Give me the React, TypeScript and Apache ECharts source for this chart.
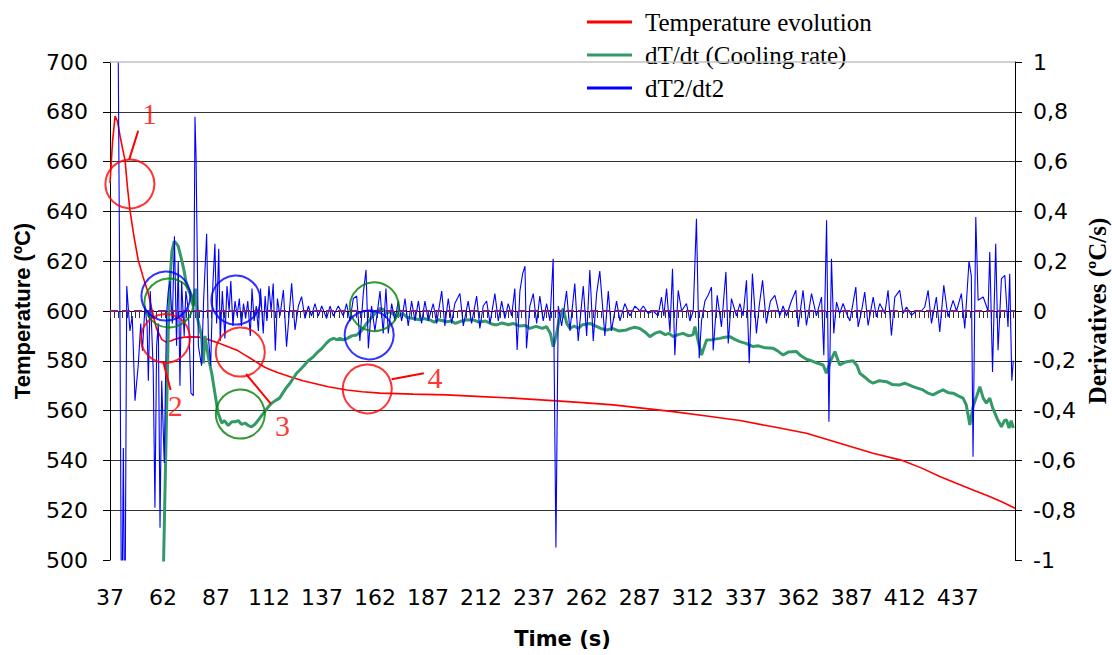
import { useEffect, useRef } from 'react';
import * as echarts from 'echarts';

const SANS = '"DejaVu Sans", "Liberation Sans", Arial, sans-serif';
const SANS_TITLE = '"Liberation Sans", Arial, sans-serif';
const SERIF = '"Liberation Serif", "Times New Roman", serif';

const xLabelValues = [37, 62, 87, 112, 137, 162, 187, 212, 237, 262, 287, 312, 337, 362, 387, 412, 437];
const seriesNames = ['Temperature evolution', 'dT/dt (Cooling rate)', 'dT2/dt2'];

// Temperature (ºC) vs time (s)
const temperature = [
  [37, 651.3], [38.2, 668], [39.4, 678.3], [40.6, 676], [41.8, 670], [43, 665], [44.1, 660.6], [45.2, 650],
  [46.4, 640.6], [48.3, 630], [50.3, 620.5], [52.5, 614], [55.1, 607], [56.9, 600], [58.9, 593], [61.5, 588.5],
  [63.7, 587.4], [65.5, 588], [68, 588.8], [72, 589.5], [76, 589.6], [79, 589.5], [82, 589], [85, 588.1],
  [88, 587.2], [91.2, 586.1], [94.5, 585], [97.5, 584], [100.5, 582.4], [103.8, 580.7], [107, 579], [110, 577.4],
  [113, 576.3], [116.4, 575.2], [122.7, 573.4], [128, 572], [133, 571], [140, 569.6], [148.7, 568.3], [156, 567.6],
  [164.4, 567], [180, 566.6], [195.8, 566.3], [210, 565.7], [227.2, 565], [247.7, 563.9], [260, 563.2], [274.4, 562.3],
  [287, 561.1], [302.7, 559.6], [318.5, 557.8], [334.2, 556], [349.9, 553.5], [365.6, 550.9], [381.3, 546.9],
  [397, 542.9], [411.2, 539.9], [420, 536.9], [428.5, 533.5], [436, 530.9], [444.2, 528.1], [452, 525.5],
  [458, 523.3], [464, 520.8],
];

// dT/dt (ºC/s)
const coolingRate = [
  [61.2, -1.5], [62.3, -1.0], [63.7, -0.41], [64.5, -0.08], [65.3, 0.12], [66.2, 0.24], [67.3, 0.28], [68.4, 0.27],
  [69.2, 0.26], [70.8, 0.205], [72, 0.16], [73.2, 0.1], [74.8, 0.07], [76.2, 0.02], [77.3, 0.09], [78.3, -0.03],
  [80.2, -0.1], [81, -0.21], [81.8, -0.1], [83.5, -0.19], [85, -0.25], [86.5, -0.33], [88, -0.41], [89.7, -0.45],
  [91, -0.44], [92.8, -0.46], [94.5, -0.445], [96, -0.445], [97.5, -0.44], [99, -0.455], [100.7, -0.45], [102.3, -0.46],
  [103.8, -0.465], [105.4, -0.455], [107, -0.438], [108.5, -0.42], [110, -0.404], [111.7, -0.385], [113.3, -0.37],
  [115, -0.36], [117, -0.35], [118.5, -0.33], [120, -0.31], [121.9, -0.29], [123.5, -0.27], [125, -0.25], [126.6, -0.237],
  [128.5, -0.22], [130.5, -0.2], [132.9, -0.184], [135, -0.165], [137, -0.15], [139, -0.13], [140.8, -0.116],
  [142.5, -0.11], [144, -0.115], [145.5, -0.11], [147, -0.116], [149, -0.11], [151, -0.1], [153.4, -0.096],
  [155, -0.085], [156.5, -0.07], [158.1, -0.05], [160, -0.03], [162, -0.01], [164.4, 0.01], [166, 0.005],
  [167.5, -0.01], [169.1, -0.003], [171, -0.015], [173, -0.02], [175, -0.01], [177, -0.025], [180.1, -0.03],
  [183, -0.035], [185, -0.03], [187.9, -0.036], [190, -0.045], [192, -0.035], [195.8, -0.043], [198, -0.04],
  [200, -0.05], [203, -0.04], [205, -0.035], [208.4, -0.036], [211, -0.045], [214, -0.04], [217, -0.052],
  [219.4, -0.056], [222, -0.048], [225, -0.055], [227.2, -0.05], [230, -0.06], [233, -0.058], [235.1, -0.07],
  [238, -0.062], [241, -0.07], [243, -0.063], [244.8, -0.09], [246.1, -0.143], [247.5, -0.1], [248.8, -0.04],
  [250.8, 0.01], [252.5, -0.05], [254, -0.07], [256, -0.06], [258, -0.07], [260, -0.055], [263.4, -0.05],
  [266, -0.06], [268.5, -0.07], [271.3, -0.076], [274, -0.07], [277, -0.08], [280.7, -0.076], [282.5, -0.07],
  [284.6, -0.065], [287, -0.07], [289.5, -0.085], [291.7, -0.103], [294, -0.09], [296.4, -0.083], [299, -0.095],
  [300.8, -0.09], [302.7, -0.103], [305, -0.095], [307.4, -0.09], [310, -0.1], [312.1, -0.096], [313, -0.063],
  [314.5, -0.12], [316.1, -0.177], [318.5, -0.116], [321, -0.115], [324.8, -0.11], [327, -0.105], [329.5, -0.103],
  [332, -0.115], [334.2, -0.123], [337, -0.13], [340.4, -0.143], [343, -0.14], [346, -0.148], [349.9, -0.15],
  [352, -0.16], [354.6, -0.177], [357, -0.165], [360.9, -0.163], [363, -0.18], [365.6, -0.194], [368, -0.2],
  [371, -0.21], [373.5, -0.217], [375, -0.25], [377, -0.2], [379, -0.163], [381.3, -0.217], [384, -0.205],
  [387.6, -0.2], [389.5, -0.22], [390.8, -0.25], [393, -0.265], [395, -0.28], [397, -0.29], [400, -0.28],
  [403.4, -0.284], [406, -0.295], [409.6, -0.297], [412, -0.29], [415.9, -0.304], [418, -0.31], [420.6, -0.317],
  [423, -0.33], [425.3, -0.337], [428, -0.325], [430, -0.317], [432.5, -0.328], [434.8, -0.33], [437, -0.34],
  [439.5, -0.35], [441, -0.377], [442.7, -0.458], [444.2, -0.384], [446, -0.34], [447.4, -0.304], [449, -0.35],
  [450.5, -0.37], [452.1, -0.35], [453.5, -0.39], [454.5, -0.41], [456, -0.44], [457.6, -0.465], [459, -0.44],
  [460, -0.438], [461.2, -0.47], [462.2, -0.44], [463.2, -0.47],
];

// dT2/dt2
const secondDerivative = [
  [40.6, 1.4], [41.7, -0.05], [42.5, -1.4], [43.3, -0.55], [44.0, -1.4], [44.9, 0.1], [46.4, -0.08], [47.5, -0.02],
  [48.8, -0.36], [50.4, -0.21], [51.5, -0.05], [52.3, -0.16], [53.5, 0.02], [54.5, -0.06], [55.1, -0.28], [56.0, 0.08],
  [56.7, -0.08], [57.4, -0.24], [58.2, -0.79], [59.0, -0.14], [59.8, -0.05], [60.6, -0.87], [61.4, -0.28], [62.6, -0.61],
  [63.7, -0.01], [64.5, 0.08], [65.3, 0.12], [66.4, -0.05], [67.4, 0.3], [68.4, -0.14], [69.2, 0.2], [70.0, -0.3],
  [70.8, 0.12], [72.0, -0.1], [72.8, 0.08], [74.0, 0.0], [75.2, -0.33], [76.3, -0.34], [77.1, 0.78], [77.6, 0.62],
  [78.7, -0.14], [80.2, -0.22], [81.2, 0.05], [82.6, 0.31], [83.4, -0.1], [84.5, -0.22], [85.5, 0.1], [86.5, 0.27],
  [87.3, -0.05], [88.3, 0.25], [89.0, -0.12], [90.0, 0.08], [91.2, -0.11], [92.2, 0.1], [93.2, 0.0], [94.0, 0.12],
  [95.0, -0.06], [96.0, 0.04], [97.0, -0.02], [98.0, 0.05], [99.0, -0.06], [100.0, 0.03], [101.0, -0.03], [102.0, 0.04],
  [103.2, -0.1], [104.0, 0.09], [105.0, -0.04], [106.0, 0.02], [107.0, -0.08], [108.0, 0.09], [109.3, -0.09],
  [110.2, 0.06], [111.0, -0.04], [112.0, 0.1], [113.0, 0.0], [114.0, 0.11], [115.0, -0.16], [116.0, 0.05], [117.2, -0.02],
  [118.8, 0.084], [120.3, -0.143], [122.7, 0.111], [124.3, -0.076], [125.9, 0.02], [127.4, 0.058], [129.0, -0.03],
  [130.6, 0.02], [132.1, -0.02], [133.7, 0.03], [135.3, -0.02], [136.9, 0.02], [139.2, -0.03], [140.8, 0.02],
  [142.4, -0.02], [144.7, 0.02], [147.1, -0.02], [148.6, 0.03], [150.2, -0.04], [151.8, 0.05], [153.4, 0.06],
  [154.9, -0.12], [156.5, 0.07], [157.8, 0.165], [158.9, -0.15], [160.4, 0.02], [162.0, -0.08], [164.4, 0.08],
  [165.9, -0.09], [167.2, 0.09], [168.3, -0.09], [169.9, 0.03], [171.4, -0.04], [173.0, 0.04], [174.6, -0.04],
  [176.2, 0.05], [177.7, -0.06], [179.3, 0.04], [180.9, -0.04], [182.5, 0.04], [184.0, -0.05], [185.6, 0.04],
  [187.2, -0.04], [189.5, 0.03], [191.1, -0.05], [193.5, 0.08], [195.0, -0.06], [196.6, 0.05], [198.2, -0.05],
  [199.7, 0.03], [202.1, 0.07], [203.7, -0.06], [206.0, 0.04], [207.6, -0.05], [210.0, 0.06], [211.5, -0.07],
  [213.1, 0.02], [214.7, 0.04], [216.3, -0.05], [218.6, 0.07], [220.2, -0.04], [221.8, 0.04], [223.3, -0.03],
  [224.9, 0.03], [226.5, -0.02], [228.0, 0.09], [229.1, -0.157], [230.4, 0.08], [231.7, 0.15], [232.8, 0.18],
  [233.5, -0.15], [235.1, 0.02], [236.7, 0.07], [238.3, -0.05], [239.8, 0.06], [241.4, -0.04], [243.0, 0.03],
  [244.6, -0.04], [246.1, 0.21], [247.4, -0.95], [248.5, 0.02], [250.1, -0.06], [252.4, 0.08], [254.0, -0.08],
  [256.3, 0.11], [257.9, -0.12], [260.3, 0.1], [261.9, -0.1], [263.4, 0.165], [265.0, -0.12], [266.6, 0.07],
  [268.1, 0.16], [270.5, -0.1], [272.1, 0.08], [273.6, -0.08], [276.0, 0.04], [277.6, -0.04], [279.9, 0.03],
  [282.3, -0.02], [284.7, 0.02], [287.0, 0.0], [288.6, 0.02], [290.9, -0.01], [293.3, 0.0], [295.6, -0.02],
  [297.2, 0.056], [298.3, -0.02], [299.6, 0.09], [301.2, -0.084], [302.4, 0.17], [303.5, -0.178], [305.1, 0.083],
  [306.7, 0.0], [309.0, 0.03], [310.6, -0.04], [312.2, 0.0], [313.7, 0.37], [315.0, -0.19], [316.1, -0.04],
  [317.7, 0.04], [319.2, 0.063], [320.8, 0.096], [321.6, -0.158], [323.5, 0.063], [325.5, -0.064], [327.6, 0.157],
  [328.7, -0.13], [330.2, 0.05], [332.6, -0.02], [334.2, 0.03], [335.7, -0.02], [337.3, 0.123], [338.6, -0.21],
  [340.1, 0.15], [342.0, -0.09], [343.3, 0.02], [344.9, 0.123], [346.7, -0.05], [348.6, 0.04], [350.7, 0.063],
  [353.0, -0.02], [354.6, 0.02], [356.2, -0.02], [358.5, 0.04], [360.6, 0.083], [361.7, -0.064], [364.0, 0.083],
  [365.6, -0.058], [368.0, 0.07], [370.3, -0.02], [372.7, 0.056], [373.8, -0.178], [375.1, 0.364], [376.2, -0.445],
  [377.4, 0.21], [378.5, -0.09], [379.8, 0.036], [381.3, -0.01], [382.9, 0.03], [384.5, -0.01], [386.1, -0.04],
  [388.9, 0.096], [390.0, -0.064], [391.6, 0.0], [393.1, 0.076], [394.7, -0.058], [397.1, 0.056], [398.6, -0.024],
  [400.2, 0.03], [402.6, -0.01], [404.1, 0.083], [405.7, -0.098], [407.3, 0.056], [409.6, 0.083], [411.2, -0.01],
  [412.8, 0.016], [415.1, -0.017], [417.5, 0.0], [419.9, 0.0], [421.4, 0.016], [423.0, 0.083], [424.6, -0.05],
  [426.9, 0.056], [428.5, -0.084], [430.4, 0.103], [432.4, -0.024], [434.8, 0.043], [436.4, 0.0], [438.7, 0.07],
  [440.3, -0.07], [442.3, 0.2], [443.4, 0.14], [444.2, -0.585], [445.5, 0.377], [446.6, 0.043], [449.0, 0.056],
  [451.3, 0.0], [452.1, 0.237], [453.4, -0.245], [454.9, 0.27], [456.0, -0.158], [457.6, 0.13], [459.2, 0.143],
  [460.7, -0.064], [461.5, 0.15], [462.5, -0.28], [463.2, -0.2],
];

// annotation circles (time, temperature)
const redCircles = [[46.4, 651.0], [63.2, 589.0], [98.5, 583.5], [158.4, 568.7]];
const greenCircles = [[64.8, 603.2], [98.5, 558.6], [161.7, 601.7]];
const blueCircles = [[63.4, 606.0], [96.4, 604.4], [159.3, 590.4]];
const noteLabels = ['1', '2', '3', '4'];
const notePositions = [[55.6, 679.4], [67.8, 562.0], [118.4, 553.9], [190.4, 573.3]];
const leaderLines = [
  [[50.3, 672.4], [46.0, 660.6]],
  [[62.1, 579.6], [65.6, 568.3]],
  [[101.2, 574.7], [112.9, 562.7]],
  [[169.9, 572.6], [185.1, 575.0]],
];

function circleSeries(data: number[][], color: string) {
  return {
    type: 'scatter',
    yAxisIndex: 0,
    silent: true,
    z: 6,
    data,
    symbol: 'circle',
    symbolSize: 49,
    itemStyle: { color: 'rgba(0,0,0,0)', borderColor: color, borderWidth: 2 },
  };
}

export default function App() {
  const ref = useRef<HTMLDivElement>(null);
  useEffect(() => {
    const chart = echarts.init(ref.current!, null, { renderer: 'svg' });
    const tickValues: number[] = [];
    for (let t = 37; t <= 464; t += 2) tickValues.push(t);
    chart.setOption({
      animation: false,
      backgroundColor: '#ffffff',
      grid: { left: 110, right: 97, top: 62, bottom: 95, outerBoundsMode: 'none' },
      legend: {
        orient: 'vertical',
        left: 587,
        top: 7,
        itemWidth: 45,
        itemHeight: 3,
        itemGap: 3,
        icon: 'rect',
        padding: [0, 22, 0, 0],
        backgroundColor: '#ffffff',
        data: seriesNames,
        textStyle: { fontFamily: SERIF, fontSize: 25, color: '#000', lineHeight: 30, padding: [0, 0, 0, 8] },
      },
      xAxis: {
        type: 'value',
        min: 37,
        max: 464,
        name: 'Time (s)',
        nameLocation: 'middle',
        nameGap: 68,
        nameMoveOverlap: false,
        nameTextStyle: { fontFamily: SANS, fontSize: 21, fontWeight: 'bold', color: '#000' },
        axisLine: { show: true, lineStyle: { color: '#000', width: 1 } },
        axisTick: { show: true, customValues: tickValues, length: 7, lineStyle: { color: '#333' } },
        axisLabel: { customValues: xLabelValues, margin: 26, fontFamily: SANS, fontSize: 22, color: '#000' },
        splitLine: { show: false },
      },
      yAxis: [
        {
          type: 'value',
          min: 500,
          max: 700,
          interval: 20,
          position: 'left',
          name: 'Temperature (ºC)',
          nameLocation: 'middle',
          nameRotate: 90,
          nameGap: 77,
          nameMoveOverlap: false,
          nameTextStyle: { fontFamily: SANS_TITLE, fontSize: 22, fontWeight: 'bold', color: '#000' },
          axisLine: { show: true, lineStyle: { color: '#000', width: 1 } },
          axisTick: { show: true, length: 7, lineStyle: { color: '#000' } },
          axisLabel: { margin: 22, fontFamily: SANS, fontSize: 22, color: '#000' },
          splitLine: { show: true, showMinLine: false, showMaxLine: false, lineStyle: { color: '#333', width: 1.2 } },
        },
        {
          type: 'value',
          min: -1,
          max: 1,
          interval: 0.2,
          position: 'right',
          name: 'Derivatives (ºC/s)',
          nameLocation: 'middle',
          nameRotate: 90,
          nameGap: 70,
          nameMoveOverlap: false,
          nameTextStyle: { fontFamily: SERIF, fontSize: 25, fontWeight: 'bold', color: '#000' },
          axisLine: { show: true, lineStyle: { color: '#000', width: 1 } },
          axisTick: { show: true, length: 7, lineStyle: { color: '#000' } },
          axisLabel: {
            margin: 18,
            fontFamily: SANS,
            fontSize: 22,
            color: '#000',
            formatter: (v: number) => {
              const r = Math.round(v * 10) / 10;
              return (r === 0 ? '0' : String(r)).replace('.', ',');
            },
          },
          splitLine: { show: false },
        },
      ],
      series: [
        {
          name: seriesNames[0],
          type: 'line',
          yAxisIndex: 0,
          data: temperature,
          showSymbol: false,
          symbol: 'none',
          lineStyle: { color: '#ff0000', width: 1.6 },
          itemStyle: { color: '#ff0000' },
          z: 3,
          markLine: {
            silent: true,
            symbol: ['none', 'none'],
            label: { show: false },
            lineStyle: { color: '#c0c0c0', width: 1.5, type: 'solid' },
            data: [{ yAxis: 700 }],
          },
        },
        {
          name: seriesNames[1],
          type: 'line',
          yAxisIndex: 1,
          data: coolingRate,
          showSymbol: false,
          symbol: 'none',
          lineStyle: { color: '#339966', width: 3 },
          itemStyle: { color: '#339966' },
          z: 3,
        },
        {
          name: seriesNames[2],
          type: 'line',
          yAxisIndex: 1,
          data: secondDerivative,
          showSymbol: false,
          symbol: 'none',
          lineStyle: { color: '#0000ff', width: 1.1 },
          itemStyle: { color: '#0000ff' },
          z: 4,
          markLine: {
            silent: true,
            symbol: ['none', 'none'],
            label: { show: false },
            lineStyle: { color: '#80207f', width: 2, type: [8, 4] },
            data: [{ yAxis: 0 }],
          },
        },
        circleSeries(redCircles, '#ff0000'),
        circleSeries(greenCircles, '#008000'),
        circleSeries(blueCircles, '#0000ff'),
        {
          type: 'scatter',
          yAxisIndex: 0,
          silent: true,
          z: 7,
          symbol: 'circle',
          symbolSize: 1,
          itemStyle: { color: 'rgba(0,0,0,0)' },
          data: noteLabels.map((n, i) => ({ name: n, value: notePositions[i] })),
          label: {
            show: true,
            position: 'inside',
            formatter: '{b}',
            color: '#ff0000',
            fontFamily: SERIF,
            fontSize: 30,
          },
          markLine: {
            silent: true,
            symbol: ['none', 'none'],
            label: { show: false },
            lineStyle: { color: '#ff0000', width: 2, type: 'solid' },
            data: leaderLines.map(([a, b]) => [{ coord: a }, { coord: b }]),
          },
        },
      ],
    });
    return () => chart.dispose();
  }, []);
  return (
    <div
      ref={ref}
      style={{ position: 'fixed', left: 0, top: 0, width: 1112, height: 655, background: '#fff' }}
    />
  );
}
